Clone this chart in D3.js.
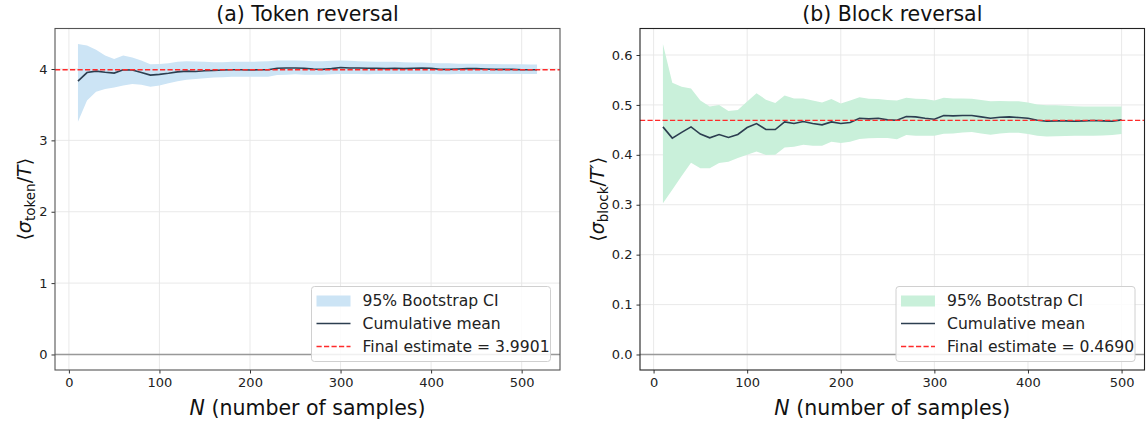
<!DOCTYPE html>
<html>
<head>
<meta charset="utf-8">
<script src="https://cdn.jsdelivr.net/npm/d3@7"></script>
<style>
  body { margin: 0; background: #fff; }
  svg { font-family: "DejaVu Sans", sans-serif; }
</style>
</head>
<body>
<script>
// ---- data ----
var tokenN = [10,20,30,40,50,60,70,80,90,100,110,120,130,140,150,160,170,180,190,200,
              210,220,230,240,250,260,270,280,290,300,310,320,330,340,350,360,370,380,390,400,
              410,420,430,440,450,460,470,480,490,500,510,517];
var tokenMean = [3.83,3.95,3.97,3.955,3.943,3.99,3.985,3.95,3.915,3.925,3.94,3.96,3.97,3.965,3.975,3.98,3.985,3.99,3.99,3.985,
                 3.99,3.99,4.01,4.015,4.015,4.01,4.0,3.995,4.005,4.02,4.015,4.015,4.01,4.01,4.005,4.01,4.005,4.01,4.015,4.01,
                 3.995,3.995,4.0,4.005,4.005,4.0,3.995,3.995,3.995,3.99,3.99,3.99];
var tokenUpper = [4.35,4.33,4.27,4.19,4.14,4.19,4.16,4.12,4.065,4.07,4.08,4.10,4.11,4.105,4.10,4.095,4.095,4.10,4.10,4.10,
                  4.105,4.11,4.12,4.12,4.118,4.115,4.11,4.11,4.115,4.12,4.115,4.11,4.105,4.10,4.10,4.10,4.095,4.09,4.09,4.085,
                  4.08,4.08,4.075,4.075,4.075,4.07,4.07,4.068,4.066,4.065,4.064,4.064];
var tokenLower = [3.26,3.56,3.68,3.72,3.74,3.77,3.79,3.78,3.75,3.77,3.80,3.83,3.85,3.86,3.87,3.88,3.885,3.89,3.89,3.89,
                  3.89,3.89,3.915,3.92,3.925,3.92,3.92,3.92,3.925,3.93,3.93,3.93,3.928,3.93,3.93,3.93,3.93,3.93,3.93,3.93,
                  3.928,3.928,3.93,3.93,3.93,3.93,3.93,3.93,3.93,3.93,3.93,3.93];
var tokenFinal = 3.9901;

var blockN = [10,20,30,40,50,60,70,80,90,100,110,120,130,140,150,160,170,180,190,200,
              210,220,230,240,250,260,270,280,290,300,310,320,330,340,350,360,370,380,390,400,
              410,420,430,440,450,460,470,480,490,500];
var blockMean = [0.456,0.4335,0.445,0.456,0.4415,0.434,0.4407,0.4347,0.4407,0.4547,0.4627,0.4507,0.4507,0.466,0.4627,0.4667,0.4627,0.46,0.466,0.4627,
                 0.4647,0.4734,0.4721,0.4734,0.470,0.4694,0.4767,0.476,0.4734,0.4714,0.4787,0.478,0.4787,0.4787,0.476,0.4734,0.4754,0.476,0.4747,0.4734,
                 0.4694,0.4674,0.468,0.468,0.4674,0.468,0.4687,0.468,0.4674,0.470];
var blockUpper = [0.622,0.5445,0.5366,0.533,0.509,0.497,0.500,0.488,0.490,0.5066,0.5233,0.5106,0.504,0.519,0.513,0.513,0.509,0.505,0.512,0.5026,
                  0.509,0.5153,0.5126,0.512,0.510,0.509,0.5146,0.5126,0.512,0.509,0.5146,0.513,0.513,0.5126,0.510,0.5073,0.508,0.5075,0.5073,0.5046,
                  0.501,0.4993,0.4993,0.4985,0.4973,0.497,0.4966,0.4966,0.4966,0.4966];
var blockLower = [0.303,0.330,0.3577,0.3842,0.373,0.3733,0.3836,0.3862,0.3935,0.400,0.4068,0.3996,0.400,0.4148,0.416,0.4202,0.418,0.418,0.426,0.4235,
                  0.426,0.4315,0.433,0.4335,0.4335,0.431,0.4395,0.438,0.438,0.438,0.442,0.4425,0.4448,0.4455,0.4425,0.440,0.4425,0.444,0.444,0.4415,
                  0.438,0.4368,0.437,0.4375,0.438,0.438,0.438,0.4385,0.4395,0.4415];
var blockFinal = 0.4690;

var xTicks = [0,100,200,300,400,500];
var tokenYTicks = [0,1,2,3,4];
var blockYTicks = [0,0.1,0.2,0.3,0.4,0.5,0.6];

var svg = d3.select("body").append("svg")
            .attr("width", 1148)
            .attr("height", 424);

function drawPanel(opt) {
  var n = opt.n;
  var xMin = d3.min(n), xMax = d3.max(n);
  var xPad = (xMax - xMin) * 0.05;
  var yMax = d3.max(opt.upper), yMin = 0;
  var yPad = (yMax - yMin) * 0.05;

  var x = d3.scaleLinear().domain([xMin - xPad, xMax + xPad]).range([opt.left, opt.right]);
  var y = d3.scaleLinear().domain([yMin - yPad, yMax + yPad]).range([opt.bottom, opt.top]);

  var g = svg.append("g");

  // grid
  g.selectAll(".vg").data(opt.xTicks).enter().append("line")
   .attr("x1", function (d) { return x(d); }).attr("x2", function (d) { return x(d); })
   .attr("y1", opt.top).attr("y2", opt.bottom)
   .attr("stroke", "#e6e6e6").attr("stroke-width", 0.9);
  g.selectAll(".hg").data(opt.yTicks).enter().append("line")
   .attr("y1", function (d) { return y(d); }).attr("y2", function (d) { return y(d); })
   .attr("x1", opt.left).attr("x2", opt.right)
   .attr("stroke", "#e6e6e6").attr("stroke-width", 0.9);

  // CI band
  var idx = d3.range(n.length);
  g.append("path")
   .datum(idx)
   .attr("d", d3.area()
      .x(function (i) { return x(n[i]); })
      .y0(function (i) { return y(opt.lower[i]); })
      .y1(function (i) { return y(opt.upper[i]); }))
   .attr("fill", opt.bandColor);

  // zero line
  g.append("line")
   .attr("x1", opt.left).attr("x2", opt.right)
   .attr("y1", y(0)).attr("y2", y(0))
   .attr("stroke", "#999").attr("stroke-width", 1.5);

  // cumulative mean
  g.append("path")
   .datum(idx)
   .attr("d", d3.line()
      .x(function (i) { return x(n[i]); })
      .y(function (i) { return y(opt.mean[i]); }))
   .attr("fill", "none")
   .attr("stroke", "#2c3e50")
   .attr("stroke-width", 1.6);

  // final estimate
  g.append("line")
   .attr("x1", opt.left).attr("x2", opt.right)
   .attr("y1", y(opt.final)).attr("y2", y(opt.final))
   .attr("stroke", "#ff2b2b").attr("stroke-width", 1.4)
   .attr("stroke-dasharray", "5.2,2.3");

  // axes
  var xAxis = g.append("g").attr("transform", "translate(0," + opt.bottom + ")")
               .call(d3.axisBottom(x).tickValues(opt.xTicks).tickSize(3.5).tickSizeOuter(0).tickPadding(4));
  var yAxis = g.append("g").attr("transform", "translate(" + opt.left + ",0)")
               .call(d3.axisLeft(y).tickValues(opt.yTicks).tickFormat(opt.yFormat).tickSize(3.5).tickSizeOuter(0).tickPadding(4));
  [xAxis, yAxis].forEach(function (a) {
    a.select(".domain").remove();
    a.selectAll("line").attr("stroke", "#333");
    a.selectAll("text").attr("font-size", 13).attr("fill", "#222")
     .attr("font-family", "\"DejaVu Sans\", sans-serif");
  });

  // frame
  g.append("rect")
   .attr("x", opt.left).attr("y", opt.top)
   .attr("width", opt.right - opt.left).attr("height", opt.bottom - opt.top)
   .attr("fill", "none").attr("stroke", opt.frameColor).attr("stroke-width", 1.1);

  // title
  g.append("text")
   .attr("x", (opt.left + opt.right) / 2).attr("y", 21)
   .attr("text-anchor", "middle").attr("font-size", 20.5).attr("fill", "#111")
   .text(opt.title);

  // x label
  var xl = g.append("text")
   .attr("x", (opt.left + opt.right) / 2).attr("y", 415)
   .attr("text-anchor", "middle").attr("font-size", 20.5).attr("fill", "#111");
  xl.append("tspan").attr("font-style", "italic").text("N");
  xl.append("tspan").text(" (number of samples)");

  // y label (mathtext-like)
  var yl = g.append("text")
   .attr("transform", "translate(" + opt.yLabelX + "," + ((opt.top + opt.bottom) / 2) + ") rotate(-90)")
   .attr("text-anchor", "middle").attr("font-size", 19).attr("fill", "#111");
  yl.append("tspan").text("\u27E8");
  yl.append("tspan").attr("font-style", "italic").text("\u03C3");
  yl.append("tspan").attr("font-size", 13.5).attr("dy", 4).text(opt.sub);
  yl.append("tspan").attr("dy", -4).text("/");
  yl.append("tspan").attr("font-style", "italic").text(opt.denom);
  yl.append("tspan").text("\u27E9");

  // legend
  var lw = 239, lh = 75;
  var lx = opt.right - 9.5 - lw, ly = opt.bottom - 8.5 - lh;
  var lg = g.append("g").attr("transform", "translate(" + lx + "," + ly + ")");
  lg.append("rect").attr("width", lw).attr("height", lh).attr("rx", 3)
    .attr("fill", "#fff").attr("fill-opacity", 0.85)
    .attr("stroke", "#d0d0d0").attr("stroke-width", 1);
  var rows = [14, 37, 60];
  lg.append("rect").attr("x", 5).attr("y", rows[0] - 5).attr("width", 34).attr("height", 11)
    .attr("fill", opt.bandColor);
  lg.append("line").attr("x1", 5).attr("x2", 39).attr("y1", rows[1]).attr("y2", rows[1])
    .attr("stroke", "#2c3e50").attr("stroke-width", 1.6);
  lg.append("line").attr("x1", 5).attr("x2", 39).attr("y1", rows[2]).attr("y2", rows[2])
    .attr("stroke", "#ff2b2b").attr("stroke-width", 1.4).attr("stroke-dasharray", "5.2,2.3");
  var labels = ["95% Bootstrap CI", "Cumulative mean", "Final estimate = " + opt.final.toFixed(4)];
  lg.selectAll(".lt").data(labels).enter().append("text")
    .attr("x", 51).attr("y", function (d, i) { return rows[i] + 5.5; })
    .attr("font-size", 15.6).attr("fill", "#222")
    .text(function (d) { return d; });
}

drawPanel({
  n: tokenN, mean: tokenMean, upper: tokenUpper, lower: tokenLower, final: tokenFinal,
  left: 55, right: 560, top: 28.5, bottom: 370,
  xTicks: xTicks, yTicks: tokenYTicks, yFormat: d3.format("d"),
  bandColor: "#cce4f5", frameColor: "#555",
  title: "(a) Token reversal", sub: "token", denom: "T", yLabelX: 31
});

drawPanel({
  n: blockN, mean: blockMean, upper: blockUpper, lower: blockLower, final: blockFinal,
  left: 640, right: 1144.5, top: 28.5, bottom: 370,
  xTicks: xTicks, yTicks: blockYTicks, yFormat: d3.format(".1f"),
  bandColor: "#c9f0da", frameColor: "#222",
  title: "(b) Block reversal", sub: "block", denom: "T\u2032", yLabelX: 604
});
</script>
</body>
</html>
